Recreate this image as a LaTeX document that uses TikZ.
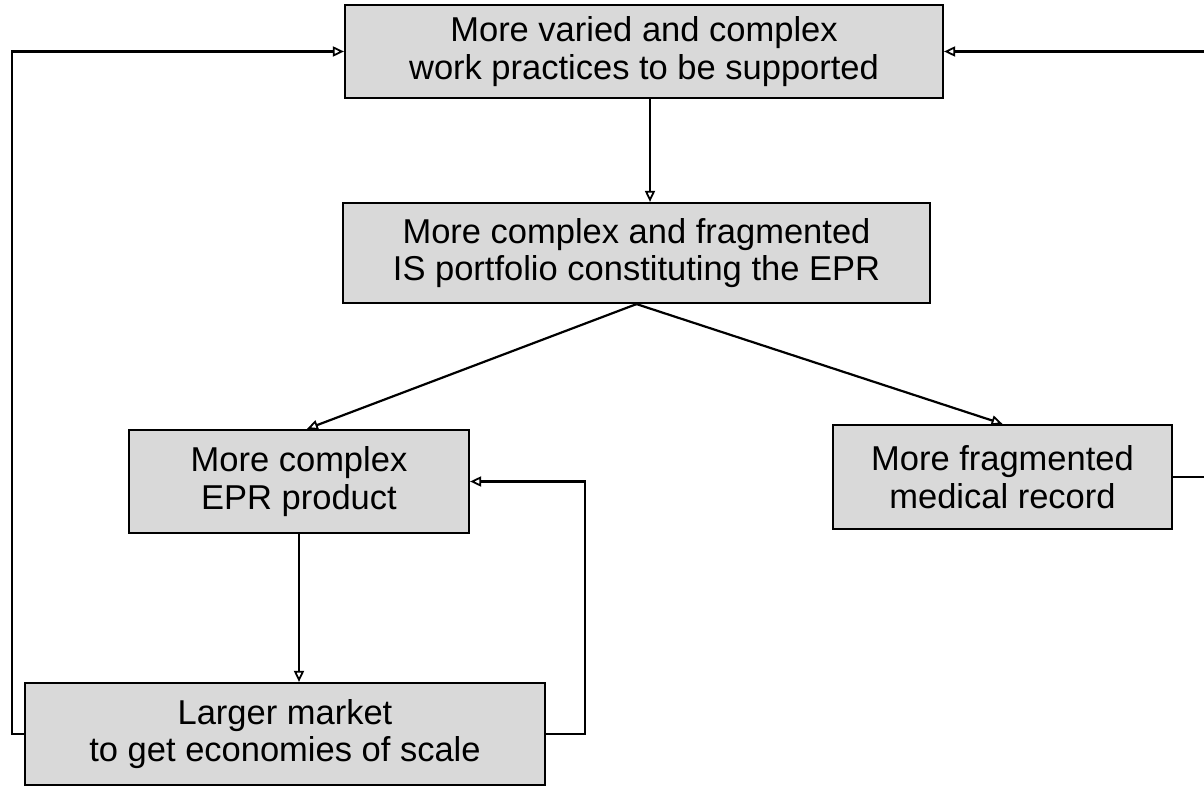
\documentclass[tikz,border=0pt]{standalone}
\usepackage{fontspec}
\setmainfont{Liberation Sans}
\usetikzlibrary{arrows.meta}
\tikzset{
  box/.style={draw=black, line width=2.2pt, fill=gray!30, align=center, inner sep=0pt,
    font=\fontsize{34.5}{37.5}\selectfont},
  arr/.style={line width=2.2pt, -{Triangle[open, length=11pt, width=10pt, line width=1.8pt]}},
}
\begin{document}
\begin{tikzpicture}[x=1pt, y=-1pt]
\useasboundingbox (0,0) rectangle (1204,791);
\fill[white] (0,0) rectangle (1204,791);
\node[box, minimum width=598pt, minimum height=93pt] (top) at (644,51.5) {More varied and complex\\work practices to be supported};
\node[box, minimum width=587pt, minimum height=100pt] (mid) at (636.5,253) {More complex and fragmented\\IS portfolio constituting the EPR};
\node[box, minimum width=340pt, minimum height=103pt] (epr) at (299,481.5) {More complex\\EPR product};
\node[box, minimum width=339pt, minimum height=104pt] (med) at (1002.5,477) {More fragmented\\medical record};
\node[box, minimum width=520pt, minimum height=102pt] (mkt) at (285,734) {Larger market\\to get economies of scale};
\coordinate (lx) at (12,0);
\coordinate (rx) at (1214,0);
\coordinate (ex) at (585,0);
\draw[arr] (top.south -| 650,0) -- (mid.north -| 650,0);
\draw[arr] (mid.south) -- ([xshift=8pt]epr.north);
\draw[arr] (mid.south) -- (med.north);
\draw[arr] (epr.south) -- (epr.south |- mkt.north);
\draw[arr] (mkt.east) -- (mkt.east -| ex) -- (epr.east -| ex) -- (epr.east);
\draw[arr] (mkt.west) -- (mkt.west -| lx) -- (top.west -| lx) -- (top.west);
\draw[arr] (med.east) -- (med.east -| rx) -- (top.east -| rx) -- (top.east);
\end{tikzpicture}
\end{document}
